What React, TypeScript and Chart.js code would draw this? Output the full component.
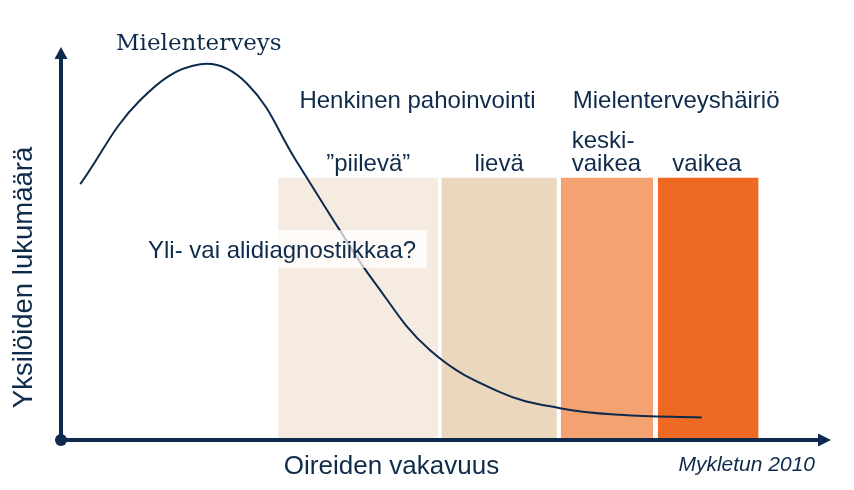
import React, { useEffect, useRef } from "react";
import { Chart, registerables } from "chart.js";

Chart.register(...registerables);

// ---- data ----
const categories = ["\u201Dpiilevä\u201D", "lievä", "keski-\nvaikea", "vaikea"];
const barStart = [28.2, 49.4, 64.9, 77.5];
const barEnd = [49.0, 64.4, 76.9, 90.6];
const barHeight = [66.7, 66.7, 66.7, 66.7];
const barColors = ["#F6EBE1", "#EAD7BE", "#F5A272", "#EE6A22"];

const curveX = [2.5, 10.3, 18.1, 24.2, 30.5, 36.2, 40.5, 47.9, 57.0, 64.8, 72.6, 83.2];
const curveY = [65.1, 86.5, 95.6, 90.6, 71.2, 53.4, 40.7, 22.9, 12.2, 8.1, 6.4, 5.7];

const groupLabels = ["Henkinen pahoinvointi", "Mielenterveyshäiriö"];
const curveLabel = "Mielenterveys";
const questionLabel = "Yli- vai alidiagnostiikkaa?";
const xTitle = "Oireiden vakavuus";
const yTitle = "Yksilöiden lukumäärä";
const sourceLabel = "Mykletun 2010";

const NAVY = "#0c2a4c";
const TEXT = "#0f2b4b";
const SANS = "'Liberation Sans', Arial, sans-serif";

export default function App() {
  const ref = useRef<HTMLCanvasElement | null>(null);

  useEffect(() => {
    if (!ref.current) return;

    const rectSets = categories.map((c, i) => ({
      label: c,
      data: [
        { x: barStart[i], y: 0 },
        { x: barStart[i], y: barHeight[i] },
        { x: barEnd[i], y: barHeight[i] },
        { x: barEnd[i], y: 0 },
      ],
      showLine: true,
      borderWidth: 0,
      borderColor: "rgba(0,0,0,0)",
      backgroundColor: barColors[i],
      fill: "origin",
      pointRadius: 0,
      tension: 0,
      order: 2,
    }));

    const curveSet = {
      label: curveLabel,
      data: curveX.map((x, i) => ({ x, y: curveY[i] })),
      showLine: true,
      borderColor: NAVY,
      borderWidth: 2,
      fill: false,
      pointRadius: 0,
      tension: 0.4,
      order: 1,
    };

    const overlay = {
      id: "overlay",
      afterDatasetsDraw(chart: any) {
        const { ctx, chartArea, scales } = chart;
        const xs = scales.x;
        const ys = scales.y;
        const px = (v: number) => xs.getPixelForValue(v);
        const py = (v: number) => ys.getPixelForValue(v);
        ctx.save();

        // question box (semi-transparent)
        ctx.fillStyle = "rgba(255,255,255,0.72)";
        const bx0 = px(10.3), bx1 = px(47.5), by0 = py(53.4), by1 = py(43.8);
        ctx.fillRect(bx0, by0, bx1 - bx0, by1 - by0);

        ctx.fillStyle = TEXT;
        ctx.textBaseline = "alphabetic";

        // question text
        ctx.font = `24px ${SANS}`;
        ctx.textAlign = "left";
        ctx.fillText(questionLabel, px(11.3), py(46.2));

        // curve label (serif)
        ctx.font = `23px 'DejaVu Serif', serif`;
        ctx.textAlign = "center";
        ctx.fillText(curveLabel, px(17.9), py(99.2));

        // group labels
        ctx.font = `24px ${SANS}`;
        ctx.textAlign = "center";
        ctx.fillText(groupLabels[0], (px(barStart[0]) + px(barEnd[1])) / 2, py(84.5));
        ctx.textAlign = "left";
        ctx.fillText(groupLabels[1], px(barStart[2]) + 12, py(84.5));

        // bar labels
        const baseY = py(68.4);
        ctx.textAlign = "center";
        ctx.fillText(categories[0], px(39.9), baseY);
        ctx.fillText(categories[1], (px(barStart[1]) + px(barEnd[1])) / 2, baseY);
        ctx.textAlign = "left";
        const kv = categories[2].split("\n");
        ctx.fillText(kv[0], px(barStart[2]) + 11, py(74.2));
        ctx.fillText(kv[1], px(barStart[2]) + 11, baseY);
        ctx.textAlign = "center";
        ctx.fillText(categories[3], px(83.9), baseY);

        // axes
        const ox = px(0), oy = py(0);
        ctx.strokeStyle = NAVY;
        ctx.fillStyle = NAVY;
        ctx.lineWidth = 4;
        ctx.beginPath();
        ctx.moveTo(ox, oy);
        ctx.lineTo(chartArea.right - 12, oy);
        ctx.moveTo(ox, oy);
        ctx.lineTo(ox, chartArea.top + 11);
        ctx.stroke();
        // arrow heads
        ctx.beginPath();
        ctx.moveTo(chartArea.right, oy);
        ctx.lineTo(chartArea.right - 13, oy - 6.5);
        ctx.lineTo(chartArea.right - 13, oy + 6.5);
        ctx.closePath();
        ctx.fill();
        ctx.beginPath();
        ctx.moveTo(ox, chartArea.top);
        ctx.lineTo(ox - 6.5, chartArea.top + 12);
        ctx.lineTo(ox + 6.5, chartArea.top + 12);
        ctx.closePath();
        ctx.fill();
        // origin dot
        ctx.beginPath();
        ctx.arc(ox, oy, 6, 0, Math.PI * 2);
        ctx.fill();

        // axis titles
        ctx.fillStyle = TEXT;
        ctx.font = `26px ${SANS}`;
        ctx.textAlign = "center";
        ctx.fillText(xTitle, 391.5, oy + 34);

        ctx.font = `italic 21px ${SANS}`;
        ctx.textAlign = "right";
        ctx.fillText(sourceLabel, 815, oy + 31);

        ctx.save();
        ctx.translate(32, (py(0) + py(100)) / 2 + 34);
        ctx.rotate(-Math.PI / 2);
        ctx.font = `27.5px ${SANS}`;
        ctx.textAlign = "center";
        ctx.fillText(yTitle, 0, 0);
        ctx.restore();

        ctx.restore();
      },
    };

    const chart = new Chart(ref.current, {
      type: "scatter",
      data: { datasets: [curveSet as any, ...rectSets] },
      options: {
        animation: false,
        responsive: false,
        events: [],
        layout: { padding: { left: 61, right: 23, top: 47, bottom: 50 } },
        plugins: { legend: { display: false }, tooltip: { enabled: false } },
        scales: {
          x: { type: "linear", min: 0, max: 100, display: false },
          y: { type: "linear", min: 0, max: 100, display: false },
        },
      },
      plugins: [overlay],
    });

    return () => chart.destroy();
  }, []);

  return (
    <div style={{ position: "fixed", left: 0, top: 0, width: 854, height: 490, background: "#fff" }}>
      <canvas ref={ref} width={854} height={490} style={{ display: "block" }} />
    </div>
  );
}
